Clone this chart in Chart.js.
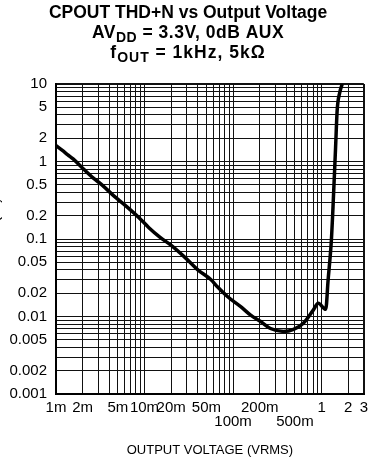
<!DOCTYPE html>
<html>
<head>
<meta charset="utf-8">
<script src="https://cdn.jsdelivr.net/npm/chart.js@4/dist/chart.umd.min.js"></script>
<style>
  body { margin: 0; background: #fff; }
  canvas { display: block; }
</style>
</head>
<body>
<canvas id="thdn" width="375" height="466"></canvas>
<script>
// output voltage (Vrms) vs THD+N (%)
const voltage = [0.001, 0.00117, 0.00136, 0.00156, 0.002, 0.0026, 0.0033, 0.0045, 0.0061, 0.0086,
  0.0112, 0.015, 0.0202, 0.03, 0.04, 0.056, 0.067, 0.087, 0.122, 0.158,
  0.205, 0.265, 0.373, 0.482, 0.622, 0.805, 0.916, 1.114, 1.185, 1.29,
  1.346, 1.44, 1.50, 1.60, 1.71];
const thdn = [1.6, 1.4, 1.22, 1.08, 0.82, 0.62, 0.50, 0.36, 0.27, 0.19,
  0.14, 0.105, 0.082, 0.055, 0.040, 0.030, 0.024, 0.018, 0.0134, 0.0104,
  0.0086, 0.0070, 0.0064, 0.0068, 0.0082, 0.0121, 0.0148, 0.0124, 0.0296, 0.097,
  0.26, 1.55, 4.6, 7.7, 10];

const xLabelValues = [0.001, 0.002, 0.005, 0.01, 0.02, 0.05, 0.1, 0.2, 0.5, 1, 2, 3];
const xLabels = ['1m', '2m', '5m', '10m', '20m', '50m', '100m', '200m', '500m', '1', '2', '3'];
const xLabelsLow = ['100m', '500m'];
const yLabelValues = [10, 5, 2, 1, 0.5, 0.2, 0.1, 0.05, 0.02, 0.01, 0.005, 0.002, 0.001];
const yLabels = ['10', '5', '2', '1', '0.5', '0.2', '0.1', '0.05', '0.02', '0.01', '0.005', '0.002', '0.001'];

const titleLines = [
  [['CPOUT THD+N vs Output Voltage', false]],
  [['AV', false], ['DD', true], [' = 3.3V, 0dB AUX', false]],
  [['f', false], ['OUT', true], [' = 1kHz, 5k\u03A9', false]]
];

const FONT = '"Liberation Sans", Arial, sans-serif';

function near(a, b) { return Math.abs(a - b) / b < 1e-6; }

function logGrid(minExp, maxExp, extra) {
  const out = [];
  for (let d = minExp; d <= maxExp; d++) {
    for (let k = 1; k <= 9; k++) out.push(+(k * Math.pow(10, d)).toPrecision(6));
  }
  return out.concat(extra);
}

const titlePlugin = {
  id: 'multiTitle',
  afterDraw(chart) {
    const ctx = chart.ctx;
    const cx = 188;
    const baselines = [18, 38, 58];
    const spacing = ['0px', '0.5px', '1px'];
    ctx.save();
    ctx.fillStyle = '#000';
    ctx.textBaseline = 'alphabetic';
    titleLines.forEach((parts, i) => {
      ctx.letterSpacing = spacing[i];
      let total = 0;
      parts.forEach(([t, sub]) => {
        ctx.font = sub ? 'bold 14px ' + FONT : 'bold 17.5px ' + FONT;
        total += ctx.measureText(t).width;
      });
      let x = cx - total / 2;
      parts.forEach(([t, sub]) => {
        ctx.font = sub ? 'bold 14px ' + FONT : 'bold 17.5px ' + FONT;
        ctx.fillText(t, x, baselines[i] + (sub ? 4 : 0));
        x += ctx.measureText(t).width;
      });
    });
    ctx.restore();
  }
};

const frameWidth = (vals) => (c) => {
  const v = c.tick && c.tick.value;
  return vals.some(e => near(v, e)) ? 2 : 1;
};

const ctx = document.getElementById('thdn').getContext('2d');
new Chart(ctx, {
  type: 'line',
  data: {
    datasets: [{
      data: voltage.map((v, i) => ({ x: v, y: thdn[i] })),
      borderColor: '#000',
      borderWidth: 3.5,
      pointRadius: 0,
      cubicInterpolationMode: 'monotone',
      fill: false
    }]
  },
  options: {
    responsive: false,
    animation: false,
    devicePixelRatio: 1,
    layout: { padding: { top: 84, right: 7, left: 0, bottom: 0 } },
    plugins: {
      legend: { display: false },
      title: { display: false },
      tooltip: { enabled: false }
    },
    scales: {
      x: {
        type: 'logarithmic',
        min: 0.001,
        max: 3,
        afterBuildTicks: (scale) => {
          scale.ticks = logGrid(-3, -1, [1, 2, 3]).map(v => ({ value: v }));
        },
        afterFit: (scale) => { scale.height = 72; },
        grid: { color: '#111', lineWidth: frameWidth([0.001, 3]), drawTicks: false },
        border: { color: '#000', width: 2 },
        ticks: {
          autoSkip: false,
          maxRotation: 0,
          padding: 7,
          color: '#000',
          font: { family: FONT, size: 15, lineHeight: 0.93 },
          callback: (value) => {
            const i = xLabelValues.findIndex(v => near(value, v));
            if (i < 0) return '';
            const lab = xLabels[i];
            return xLabelsLow.includes(lab) ? ['', lab] : lab;
          }
        },
        title: {
          display: true,
          text: 'OUTPUT VOLTAGE (VRMS)',
          color: '#000',
          font: { family: FONT, size: 13 },
          padding: { top: 0, bottom: 8 }
        }
      },
      y: {
        type: 'logarithmic',
        min: 0.001,
        max: 10,
        afterBuildTicks: (scale) => {
          scale.ticks = logGrid(-3, 0, [10]).map(v => ({ value: v }));
        },
        afterFit: (scale) => { scale.width = 56; },
        grid: { color: '#111', lineWidth: frameWidth([0.001, 10]), drawTicks: false },
        border: { color: '#000', width: 2 },
        ticks: {
          autoSkip: false,
          padding: 9,
          color: '#000',
          font: { family: FONT, size: 15 },
          callback: (value) => {
            const i = yLabelValues.findIndex(v => near(value, v));
            return i < 0 ? '' : yLabels[i];
          }
        },
        title: {
          display: true,
          text: 'THD+N (%)',
          color: '#000',
          font: { family: FONT, size: 16 },
          padding: { top: -15, bottom: 0 }
        }
      }
    }
  },
  plugins: [titlePlugin]
});
</script>
</body>
</html>
